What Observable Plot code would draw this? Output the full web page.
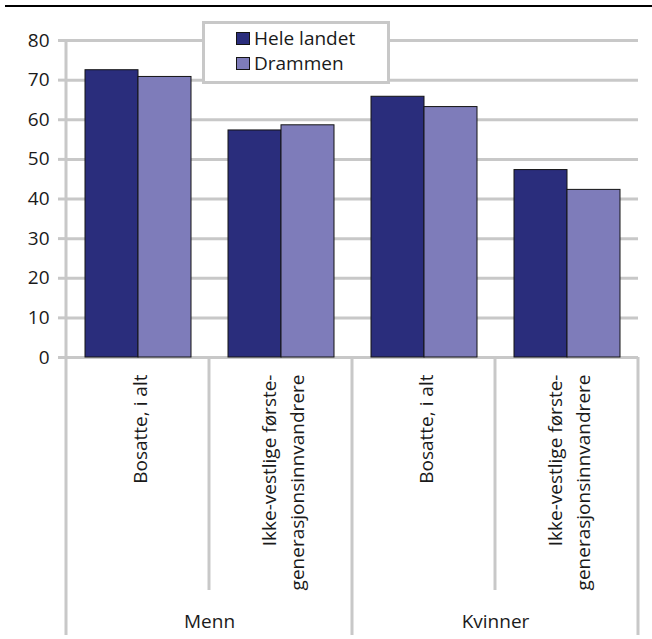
<!DOCTYPE html>
<html>
<head>
<meta charset="utf-8">
<script src="https://cdn.jsdelivr.net/npm/d3@7"></script>
<script src="https://cdn.jsdelivr.net/npm/@observablehq/plot@0.6"></script>
<style>
  body { margin: 0; background: #fff; }
  #chart { width: 652px; height: 639px; }
</style>
</head>
<body>
<div id="chart"></div>
<script>
// ---- data ----
const groups = ["Menn", "Kvinner"];
const subgroups = ["Bosatte, i alt", "Ikke-vestlige første-\ngenerasjonsinnvandrere"];
const series = ["Hele landet", "Drammen"];
const heleLandet = [72.5, 57.3, 65.8, 47.3];
const drammen = [70.8, 58.6, 63.2, 42.3];
const yTicks = [0, 10, 20, 30, 40, 50, 60, 70, 80];
const colors = ["#2a2d7c", "#7e7cba"];

// ---- tables built from the arrays ----
const cats = groups.flatMap(g => subgroups.map(s => ({group: g, sub: s, key: g + "|" + s})));
const rows = cats.flatMap((c, i) => [
  {key: c.key, series: series[0], value: heleLandet[i]},
  {key: c.key, series: series[1], value: drammen[i]}
]);
const groupLabels = cats.filter((c, i) => i % 2 === 1);

const gridColor = "#c8c8c8";
const font = "'Open Sans', sans-serif";

const chart = Plot.plot({
  width: 652,
  height: 639,
  marginLeft: 65,
  marginRight: 13,
  marginTop: 40,
  marginBottom: 282,
  style: {fontFamily: font, fontSize: "19px", color: "#1a1a1a", background: "white", overflow: "visible"},
  fx: {domain: cats.map(c => c.key), padding: 0, axis: null, label: null},
  x: {domain: series, paddingInner: 0, paddingOuter: 0.34, axis: null, label: null},
  y: {domain: [0, 80], label: null},
  color: {domain: series, range: colors},
  marks: [
    Plot.ruleY(yTicks, {stroke: gridColor, strokeWidth: 3}),
    Plot.axisY({ticks: yTicks, tickSize: 8, tickPadding: 9, stroke: gridColor, strokeWidth: 3, fontSize: 19, label: null}),
    Plot.barY(rows, {fx: "key", x: "series", y: "value", fill: "series", stroke: "#141414", strokeWidth: 1}),
    Plot.text(cats, {fx: "key", text: "sub", frameAnchor: "bottom", rotate: -90, textAnchor: "end",
      lineAnchor: "middle", lineHeight: 1.5, dy: 17, fontSize: 19, fill: "#1a1a1a"}),
    Plot.text(groupLabels, {fx: "key", text: "group", frameAnchor: "bottom-left", textAnchor: "middle",
      lineAnchor: "bottom", dy: 270, fontSize: 19, fill: "#1a1a1a"})
  ]
});

document.getElementById("chart").appendChild(chart);

// ---- category dividers, placed with Plot's own scales ----
const svg = d3.select(chart);
const fxS = chart.scale("fx");
const yS = chart.scale("y");
const starts = fxS.domain.map(k => fxS.apply(k));
const edges = [...starts, starts[starts.length - 1] + fxS.bandwidth];
const gDiv = svg.append("g");
edges.forEach((e, i) => {
  gDiv.append("line")
    .attr("x1", e).attr("x2", e)
    .attr("y1", i === 0 ? yS.apply(80) : yS.apply(0))
    .attr("y2", i % 2 === 0 ? 635 : 590)
    .attr("stroke", gridColor).attr("stroke-width", 3);
});

// top rule
svg.append("line").attr("x1", 5).attr("x2", 652).attr("y1", 6).attr("y2", 6)
  .attr("stroke", "#000").attr("stroke-width", 2);

// ---- legend ----
const colorS = chart.scale("color");
const lg = svg.append("g").attr("font-family", font).attr("font-size", 19).attr("text-anchor", "start");
lg.append("rect").attr("x", 203.5).attr("y", 22.5).attr("width", 185).attr("height", 60)
  .attr("fill", "#fff").attr("stroke", gridColor).attr("stroke-width", 3);
series.forEach((s, i) => {
  lg.append("rect").attr("x", 236.5).attr("y", 32.5 + i * 25).attr("width", 13).attr("height", 12)
    .attr("fill", colorS.apply(s)).attr("stroke", "#141414").attr("stroke-width", 1);
  lg.append("text").attr("x", 254).attr("y", 45 + i * 25).attr("fill", "#1a1a1a")
    .attr("text-anchor", "start").text(s);
});
</script>
</body>
</html>
